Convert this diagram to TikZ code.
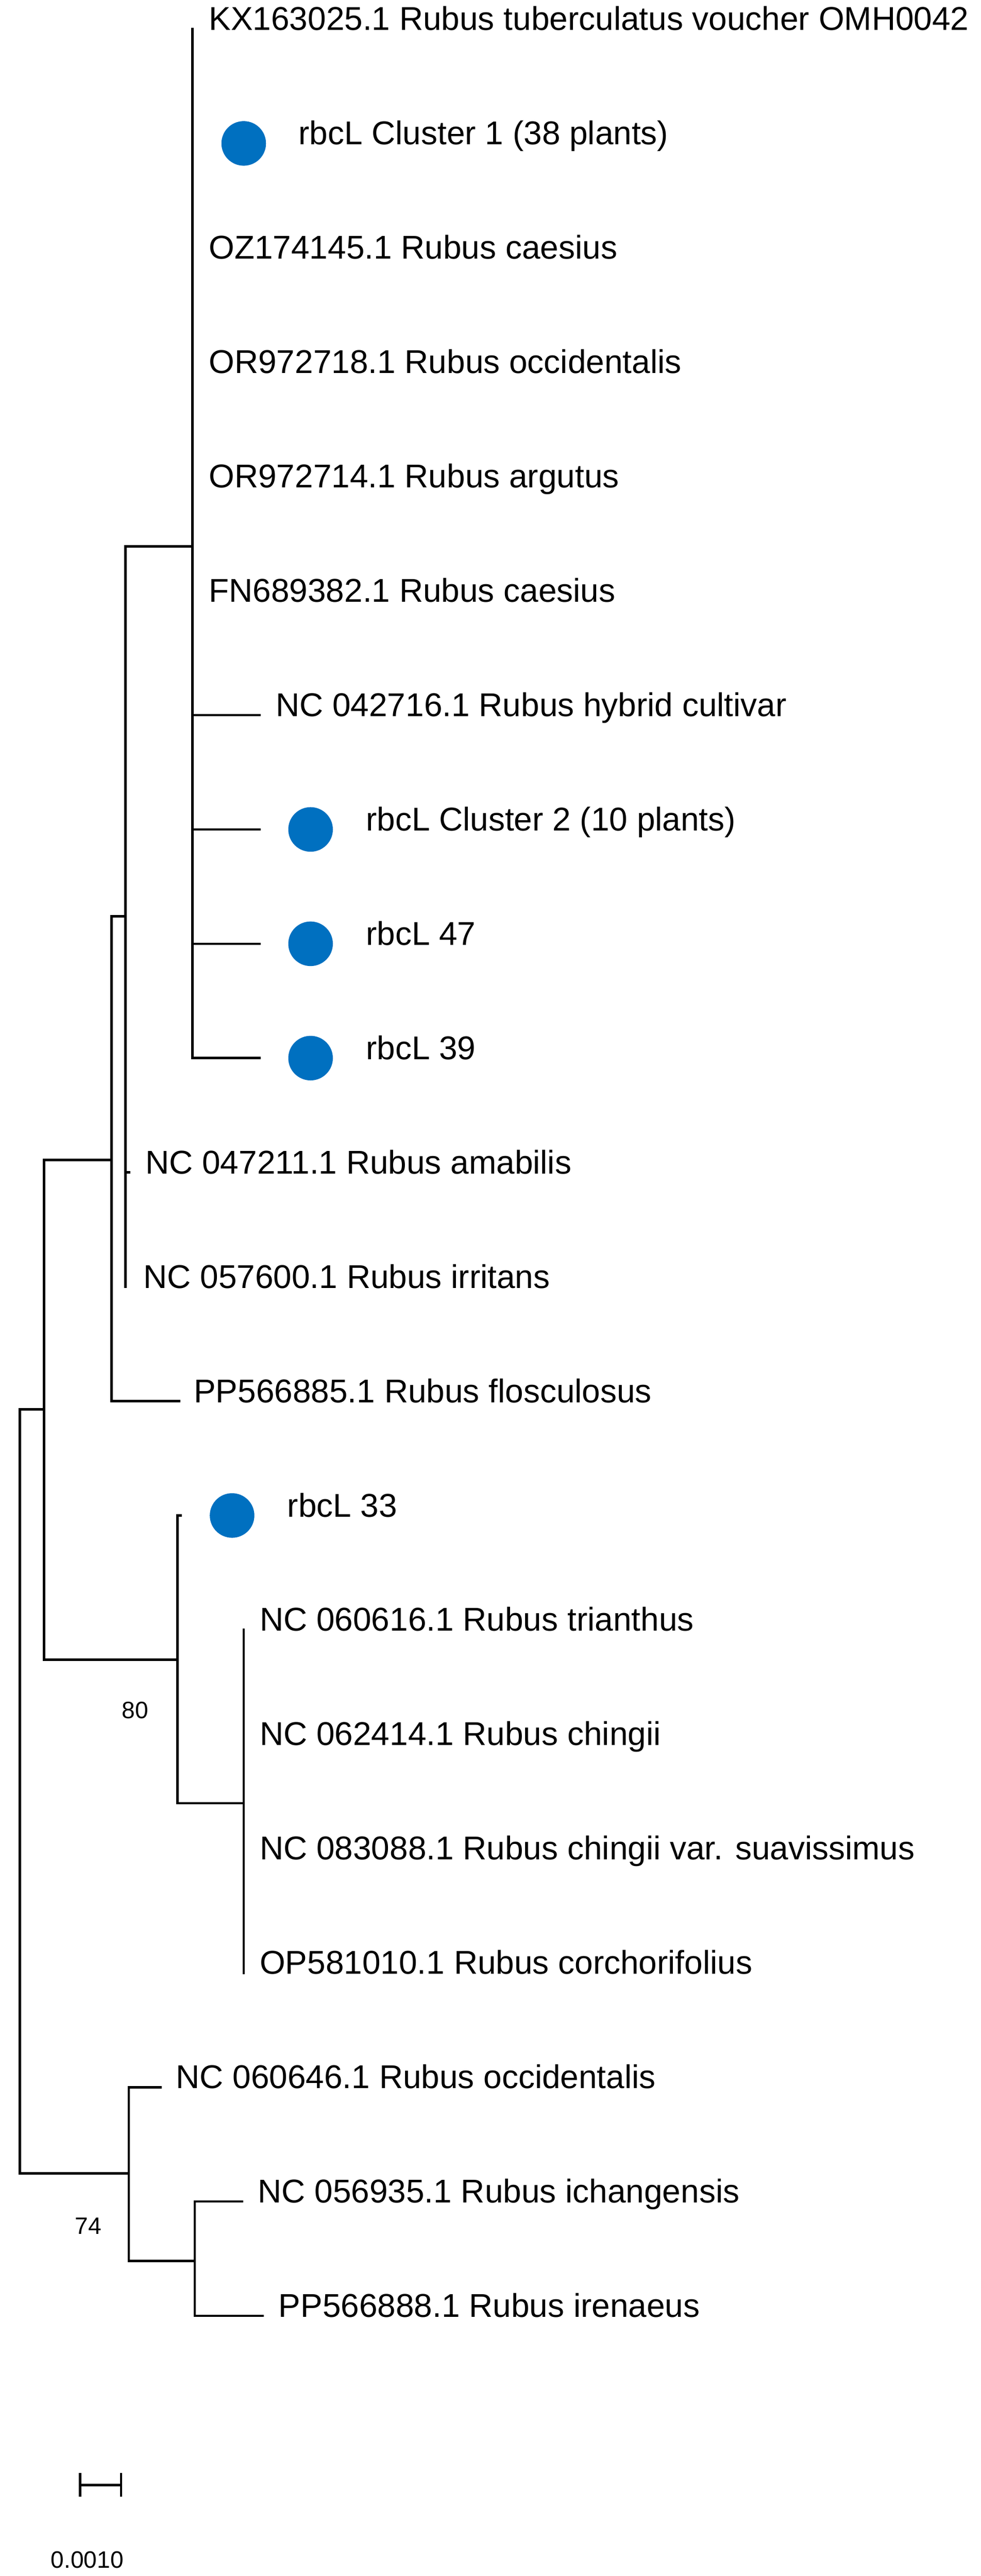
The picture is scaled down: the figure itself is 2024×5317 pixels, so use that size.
\documentclass[tikz,border=0pt]{standalone}
\usepackage{fontspec}
\setmainfont{Liberation Sans}
\definecolor{dot}{RGB}{0,112,192}
\begin{document}
\begin{tikzpicture}[x=1pt,y=-1pt,
  br/.style={line width=5pt,line cap=rect},
  lab/.style={anchor=mid west,inner sep=0pt,font=\fontsize{68}{80}\selectfont},
  sup/.style={inner sep=0pt,font=\fontsize{49}{58}\selectfont},
  dotc/.style={circle,fill=dot,minimum size=92pt,inner sep=0pt}]
\useasboundingbox (0,0) rectangle (2024,5317);
% internal nodes
\coordinate (A1) at (397,60);   \coordinate (A2) at (397,2184); \coordinate (Aj) at (397,1128);
\coordinate (B1) at (259,1128); \coordinate (B2) at (259,2656); \coordinate (Bj) at (259,1891);
\coordinate (C1) at (230,1891); \coordinate (C2) at (230,2892); \coordinate (Cj) at (230,2394);
\coordinate (D1) at (91,2394);  \coordinate (D2) at (91,3426);  \coordinate (Dj) at (91,2909);
\coordinate (E1) at (366,3128); \coordinate (E2) at (366,3722); \coordinate (Ej) at (366,3426);
\coordinate (F1) at (503,3364); \coordinate (F2) at (503,4072); \coordinate (Fj) at (503,3722);
\coordinate (R1) at (41,2909);  \coordinate (R2) at (41,4486);
\coordinate (G1) at (266,4308); \coordinate (G2) at (266,4667); \coordinate (Gj) at (266,4486);
\coordinate (H1) at (402,4544); \coordinate (H2) at (402,4780); \coordinate (Hj) at (402,4667);
% verticals and joins
\draw[br] (A1) -- (A2);
\draw[br] (B1) -- (B2); \draw[br] (B1) -- (Aj);
\draw[br] (C1) -- (C2); \draw[br] (C1) -- (Bj);
\draw[br] (D1) -- (D2); \draw[br] (D1) -- (Cj);
\draw[br] (E1) -- (E2); \draw[br] (D2) -- (Ej);
\draw[br] (F1) -- (F2); \draw[br] (E2) -- (Fj);
\draw[br] (R1) -- (R2); \draw[br] (R1) -- (Dj);
\draw[br] (G1) -- (G2); \draw[br] (R2) -- (Gj);
\draw[br] (H1) -- (H2); \draw[br] (G2) -- (Hj);
% leaves
\node[lab] (l0) at (431,60) {KX163025.1 Rubus tuberculatus voucher OMH0042};
\node[dotc] (d1) at (503,296) {};
\node[lab] (l1) at (616,296) {rbcL Cluster 1 (38 plants)};
\node[lab] (l2) at (431,532) {OZ174145.1 Rubus caesius};
\node[lab] (l3) at (431,768) {OR972718.1 Rubus occidentalis};
\node[lab] (l4) at (431,1004) {OR972714.1 Rubus argutus};
\node[lab] (l5) at (431,1240) {FN689382.1 Rubus caesius};
\coordinate (t6) at (536,1476); \draw[br] (397,1476) -- (t6);
\node[lab] (l6) at (569,1476) {NC 042716.1 Rubus hybrid cultivar};
\coordinate (t7) at (536,1712); \draw[br] (397,1712) -- (t7);
\node[dotc] (d7) at (641,1712) {};
\node[lab] (l7) at (755,1712) {rbcL Cluster 2 (10 plants)};
\coordinate (t8) at (536,1948); \draw[br] (397,1948) -- (t8);
\node[dotc] (d8) at (641,1948) {};
\node[lab] (l8) at (755,1948) {rbcL 47};
\coordinate (t9) at (536,2184); \draw[br] (A2) -- (t9);
\node[dotc] (d9) at (641,2184) {};
\node[lab] (l9) at (755,2184) {rbcL 39};
\coordinate (t10) at (267,2420); \draw[br] (259,2420) -- (t10);
\node[lab] (l10) at (300,2420) {NC 047211.1 Rubus amabilis};
\node[lab] (l11) at (296,2656) {NC 057600.1 Rubus irritans};
\coordinate (t12) at (370,2892); \draw[br] (C2) -- (t12);
\node[lab] (l12) at (400,2892) {PP566885.1 Rubus flosculosus};
\coordinate (t13) at (373,3128); \draw[br] (E1) -- (t13);
\node[dotc] (d13) at (479,3128) {};
\node[lab] (l13) at (593,3128) {rbcL 33};
\node[lab] (l14) at (536,3364) {NC 060616.1 Rubus trianthus};
\node[lab] (l15) at (536,3600) {NC 062414.1 Rubus chingii};
\node[lab] (l16) at (536,3836) {NC 083088.1 Rubus chingii var. suavissimus};
\node[lab] (l17) at (536,4072) {OP581010.1 Rubus corchorifolius};
\coordinate (t18) at (331,4308); \draw[br] (G1) -- (t18);
\node[lab] (l18) at (363,4308) {NC 060646.1 Rubus occidentalis};
\coordinate (t19) at (499,4544); \draw[br] (H1) -- (t19);
\node[lab] (l19) at (532,4544) {NC 056935.1 Rubus ichangensis};
\coordinate (t20) at (542,4780); \draw[br] (H2) -- (t20);
\node[lab] (l20) at (575,4780) {PP566888.1 Rubus irenaeus};
% support values
\node[sup] (s80) at (279,3530) {80};
\node[sup] (s74) at (182,4595) {74};
% scale bar
\coordinate (sb1) at (165,5129); \coordinate (sb2) at (250,5129);
\draw[br] (sb1) -- (sb2);
\draw[br] ([yshift=-22pt]sb1) -- ([yshift=22pt]sb1);
\draw[br] ([yshift=-22pt]sb2) -- ([yshift=22pt]sb2);
\node[sup] (sbl) at (180,5284) {0.0010};
\end{tikzpicture}
\end{document}
